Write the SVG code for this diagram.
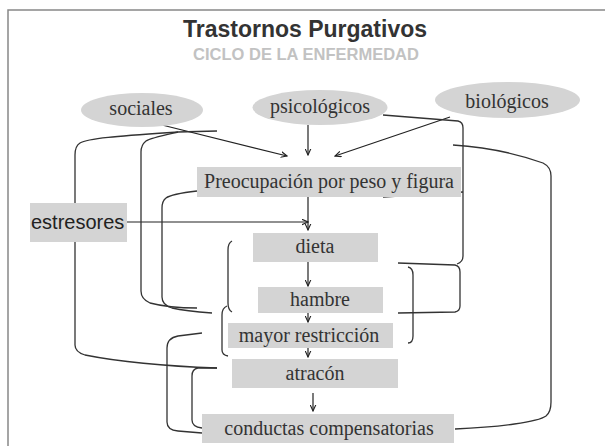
<svg xmlns="http://www.w3.org/2000/svg" width="605" height="446" viewBox="0 0 605 446">
<defs>
<style>
.box{fill:#d4d4d4;stroke:none}
.ell{fill:#d4d4d4;stroke:none}
.t{font-family:"Liberation Serif","Times New Roman",serif;font-size:20px;fill:#333;text-anchor:middle}
.c{fill:none;stroke:#333;stroke-width:1.3}
.a{fill:none;stroke:#222;stroke-width:1.2;marker-end:url(#arr)}
</style>
<marker id="arr" viewBox="0 0 8 8" refX="7" refY="4" markerWidth="7" markerHeight="7" markerUnits="userSpaceOnUse" orient="auto">
<path d="M0,0.8 L7,4 L0,7.2" fill="none" stroke="#222" stroke-width="1.3"/>
</marker>
</defs>
<rect x="0" y="0" width="605" height="446" fill="#fff"/>
<rect x="8" y="10" width="640" height="480" fill="none" stroke="#888" stroke-width="1.5"/>
<g id="title">
<text x="305" y="37" font-family="Liberation Sans, Arial, sans-serif" font-weight="bold" font-size="23" fill="#333" text-anchor="middle">Trastornos Purgativos</text>
<text x="306" y="60" font-family="Liberation Sans, Arial, sans-serif" font-weight="bold" font-size="16.5" fill="#c2c2c2" text-anchor="middle">CICLO DE LA ENFERMEDAD</text>
</g>
<g id="connectors">
<path class="a" d="M162,125 L287,156"/>
<path class="a" d="M308,125 L308,155"/>
<path class="a" d="M450,117 L335,156"/>
<path class="a" d="M127,222 L308,222"/>
<path class="a" d="M308,197 L308,230"/>
<path class="a" d="M308,262 L308,286"/>
<path class="a" d="M308,313 L308,322"/>
<path class="a" d="M308,348 L308,357"/>
<path class="a" d="M313,393 L313,411"/>
<path class="c" d="M217,131 L178,132 C120,136 88,138 80,143 Q75,146 75,155 L75,345 Q75,352 85,355 C120,362 160,366 217,368"/>
<path class="c" d="M178,132 C160,136 150,138 146,141 Q141,145 141,152 L141,291 Q141,299 150,303 C165,307 180,308 197,308"/>
<path class="c" d="M197,191 C180,193 170,195 166,198 Q162,201 162,208 L162,297 Q162,305 172,308 C185,311 198,312 212,313"/>
<path class="c" d="M232,241 Q228,243 228,250 L228,303 Q228,310 232,312"/>
<path class="c" d="M227,306 Q222,308 222,315 L222,350 Q222,355 228,356"/>
<path class="c" d="M202,333 L178,336 Q167,338 167,348 L167,422 Q167,430 178,431 L202,433"/>
<path class="c" d="M217,368 L198,368 Q192,369 192,376 L192,420 Q192,427 202,428"/>
<path class="c" d="M383,115 L458,121 Q463,122 463,128 L463,256 Q463,262 457,264"/>
<path class="c" d="M398,263 L455,265 Q460,266 460,272 L460,306 Q460,311 455,312 L398,313"/>
<path class="c" d="M383,197 L463,192"/>
<path class="c" d="M455,429 C500,427 538,422 546,416 Q551,412 551,402 L551,176 Q551,167 543,163 C515,153 485,147 453,145"/>
<path class="c" d="M408,267 Q413,268 413,275 L413,336 Q413,343 408,343"/>
</g>
<g id="sociales">
<ellipse class="ell" cx="142" cy="110" rx="61" ry="17"/>
<text class="t" x="141" y="115">sociales</text>
</g>
<g id="psicologicos">
<ellipse class="ell" cx="320" cy="107.5" rx="67.5" ry="17.5"/>
<text class="t" x="320" y="113">psicológicos</text>
</g>
<g id="biologicos">
<ellipse class="ell" cx="507.5" cy="100" rx="72.5" ry="18"/>
<text class="t" x="507" y="108">biológicos</text>
</g>
<g id="preocupacion">
<rect class="box" x="197" y="167" width="264" height="30"/>
<text class="t" x="329" y="188">Preocupación por peso y figura</text>
</g>
<g id="estresores">
<rect class="box" x="30" y="203" width="97" height="39"/>
<text x="31" y="229" font-family="Liberation Sans, Arial, sans-serif" font-size="20" fill="#222">estresores</text>
</g>
<g id="dieta">
<rect class="box" x="253" y="233" width="125" height="29"/>
<text class="t" x="315" y="253">dieta</text>
</g>
<g id="hambre">
<rect class="box" x="258" y="287" width="125" height="26"/>
<text class="t" x="320" y="306">hambre</text>
</g>
<g id="restriccion">
<rect class="box" x="228" y="323" width="165" height="25"/>
<text class="t" x="309" y="342">mayor restricción</text>
</g>
<g id="atracon">
<rect class="box" x="232" y="359" width="166" height="29"/>
<text class="t" x="315" y="380">atracón</text>
</g>
<g id="conductas">
<rect class="box" x="202" y="414" width="252" height="29"/>
<text class="t" x="329" y="435">conductas compensatorias</text>
</g>
</svg>
